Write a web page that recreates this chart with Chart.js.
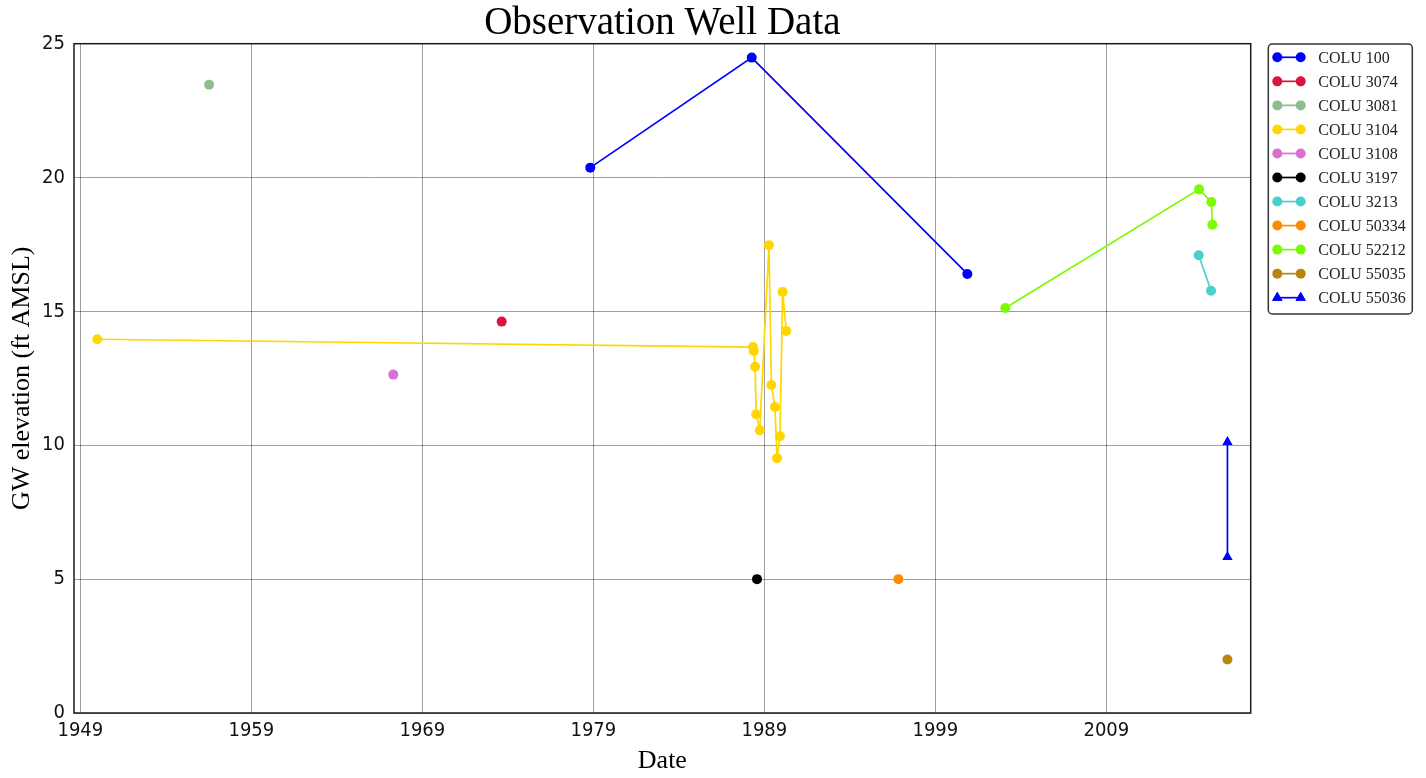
<!DOCTYPE html>
<html>
<head>
<meta charset="utf-8">
<title>Observation Well Data</title>
<script src="https://cdn.jsdelivr.net/npm/chart.js@4.4.1/dist/chart.umd.min.js"></script>
<style>
  html, body { margin: 0; padding: 0; background: #ffffff; }
  #wrap { width: 1426px; height: 778px; position: relative; }
</style>
</head>
<body>
<div id="wrap"><canvas id="c"></canvas></div>
<script>
// ---- Data (decimal years, ft AMSL) ----
const seriesNames = ["COLU 100", "COLU 3074", "COLU 3081", "COLU 3104", "COLU 3108", "COLU 3197",
                     "COLU 3213", "COLU 50334", "COLU 52212", "COLU 55035", "COLU 55036"];

const colu100_x = [1978.82, 1988.26, 2000.87];
const colu100_y = [20.37, 24.48, 16.40];

const colu3074_x = [1973.64];
const colu3074_y = [14.62];

const colu3081_x = [1956.53];
const colu3081_y = [23.47];

const colu3104_x = [1949.99, 1988.34, 1988.38, 1988.46, 1988.52, 1988.73, 1989.27,
                    1989.41, 1989.62, 1989.74, 1989.91, 1990.07, 1990.28];
const colu3104_y = [13.96, 13.67, 13.52, 12.93, 11.16, 10.56, 17.47,
                    12.25, 11.43, 9.52, 10.34, 15.73, 14.27];

const colu3108_x = [1967.30];
const colu3108_y = [12.64];

const colu3197_x = [1988.57];
const colu3197_y = [5.0];

const colu3213_x = [2014.40, 2015.12];
const colu3213_y = [17.10, 15.77];

const colu50334_x = [1996.84];
const colu50334_y = [5.0];

const colu52212_x = [2003.09, 2014.42, 2015.14, 2015.20];
const colu52212_y = [15.13, 19.56, 19.09, 18.24];

const colu55035_x = [2016.08];
const colu55035_y = [2.0];

const colu55036_x = [2016.08, 2016.08];
const colu55036_y = [10.12, 5.83];

const xTickValues = [1949, 1959, 1969, 1979, 1989, 1999, 2009];
const xTickLabels = ["1949", "1959", "1969", "1979", "1989", "1999", "2009"];
const yTickValues = [0, 5, 10, 15, 20, 25];

// ---- Styles ----
const seriesX = [colu100_x, colu3074_x, colu3081_x, colu3104_x, colu3108_x, colu3197_x,
                 colu3213_x, colu50334_x, colu52212_x, colu55035_x, colu55036_x];
const seriesY = [colu100_y, colu3074_y, colu3081_y, colu3104_y, colu3108_y, colu3197_y,
                 colu3213_y, colu50334_y, colu52212_y, colu55035_y, colu55036_y];
const colors = ["#0000ff", "#dc143c", "#8fbc8f", "#ffd700", "#da70d6", "#000000",
                "#48d1cc", "#ff8c00", "#7cfc00", "#b8860b", "#0000ff"];
const markers = ["circle", "circle", "circle", "circle", "circle", "circle",
                 "circle", "circle", "circle", "circle", "triangle"];

const datasets = seriesNames.map((name, i) => ({
  label: name,
  data: seriesX[i].map((x, j) => ({ x: x, y: seriesY[i][j] })),
  showLine: true,
  borderColor: colors[i],
  backgroundColor: colors[i],
  borderWidth: 1.7,
  pointStyle: markers[i],
  pointRadius: markers[i] === "triangle" ? 6 : 5,
  pointBorderWidth: 0,
  pointHoverRadius: markers[i] === "triangle" ? 6 : 5,
  tension: 0,
  clip: false
}));

const SERIF = "'Liberation Serif', 'Times New Roman', serif";
const SANS = "'DejaVu Sans Condensed', 'DejaVu Sans', sans-serif";

// frame + legend plugin
const framePlugin = {
  id: 'frameLegend',
  afterDraw(chart) {
    const ctx = chart.ctx;
    const a = chart.chartArea;
    ctx.save();
    ctx.strokeStyle = '#1a1a1a';
    ctx.lineWidth = 1.5;
    ctx.strokeRect(a.left, a.top, a.right - a.left, a.bottom - a.top);

    // legend box
    const bx = a.right + 17.6, by = a.top + 0.3, bw = 144, bh = 270, r = 4;
    ctx.beginPath();
    ctx.moveTo(bx + r, by);
    ctx.lineTo(bx + bw - r, by);
    ctx.arcTo(bx + bw, by, bx + bw, by + r, r);
    ctx.lineTo(bx + bw, by + bh - r);
    ctx.arcTo(bx + bw, by + bh, bx + bw - r, by + bh, r);
    ctx.lineTo(bx + r, by + bh);
    ctx.arcTo(bx, by + bh, bx, by + bh - r, r);
    ctx.lineTo(bx, by + r);
    ctx.arcTo(bx, by, bx + r, by, r);
    ctx.closePath();
    ctx.fillStyle = '#ffffff';
    ctx.fill();
    ctx.strokeStyle = '#333333';
    ctx.lineWidth = 1.5;
    ctx.stroke();

    const rowH = 24.04;
    const x1 = bx + 9, x2 = bx + 32.4, tx = bx + 50;
    chart.data.datasets.forEach((ds, i) => {
      const y = by + 13.3 + i * rowH;
      ctx.strokeStyle = ds.borderColor;
      ctx.lineWidth = 1.7;
      ctx.beginPath();
      ctx.moveTo(x1, y);
      ctx.lineTo(x2, y);
      ctx.stroke();
      ctx.fillStyle = ds.backgroundColor;
      [x1, x2].forEach(px => {
        if (ds.pointStyle === 'triangle') {
          Chart.helpers.drawPoint(ctx, { pointStyle: 'triangle', radius: 6, borderWidth: 0, rotation: 0 }, px, y);
          ctx.fill();
        } else {
          ctx.beginPath();
          ctx.arc(px, y, 5, 0, Math.PI * 2);
          ctx.fill();
        }
      });
      ctx.fillStyle = '#222222';
      ctx.font = "16px " + SERIF;
      ctx.textBaseline = 'middle';
      ctx.textAlign = 'left';
      ctx.fillText(ds.label, tx, y + 1);
    });
    ctx.restore();
  }
};

new Chart(document.getElementById('c'), {
  type: 'scatter',
  data: { datasets: datasets },
  plugins: [framePlugin],
  options: {
    responsive: true,
    maintainAspectRatio: false,
    animation: false,
    devicePixelRatio: 1,
    layout: { padding: { left: 0, right: 175.3, top: 0, bottom: 0 } },
    plugins: {
      legend: { display: false },
      tooltip: { enabled: false },
      title: {
        display: true,
        fullSize: false,
        text: 'Observation Well Data',
        color: '#000000',
        font: { family: SERIF, size: 39, weight: 'normal', lineHeight: 1 },
        padding: { top: 4.7, bottom: 0 }
      }
    },
    scales: {
      x: {
        type: 'linear',
        min: 1948.63,
        max: 2017.44,
        afterBuildTicks: (scale) => { scale.ticks = xTickValues.map(v => ({ value: v })); },
        afterFit: (scale) => { scale.height = 65; },
        ticks: {
          autoSkip: false,
          maxRotation: 0,
          padding: 6,
          color: '#111111',
          font: { family: SANS, size: 20 },
          callback: (v) => { const k = xTickValues.indexOf(v); return k >= 0 ? xTickLabels[k] : ''; }
        },
        grid: { color: 'rgba(0,0,0,0.38)', lineWidth: 1, drawTicks: false },
        border: { display: false },
        title: {
          display: true,
          text: 'Date',
          color: '#000000',
          font: { family: SERIF, size: 26 },
          padding: { top: 0, bottom: 1 }
        }
      },
      y: {
        min: 0,
        max: 25,
        afterBuildTicks: (scale) => { scale.ticks = yTickValues.map(v => ({ value: v })); },
        afterFit: (scale) => { scale.width = 74; },
        ticks: {
          padding: 9,
          color: '#111111',
          font: { family: SANS, size: 20 },
          callback: (v) => String(v)
        },
        grid: { color: 'rgba(0,0,0,0.38)', lineWidth: 1, drawTicks: false },
        border: { display: false },
        title: {
          display: true,
          text: 'GW elevation (ft AMSL)',
          color: '#000000',
          font: { family: SERIF, size: 26 },
          padding: { top: 7, bottom: 0 }
        }
      }
    }
  }
});
</script>
</body>
</html>
